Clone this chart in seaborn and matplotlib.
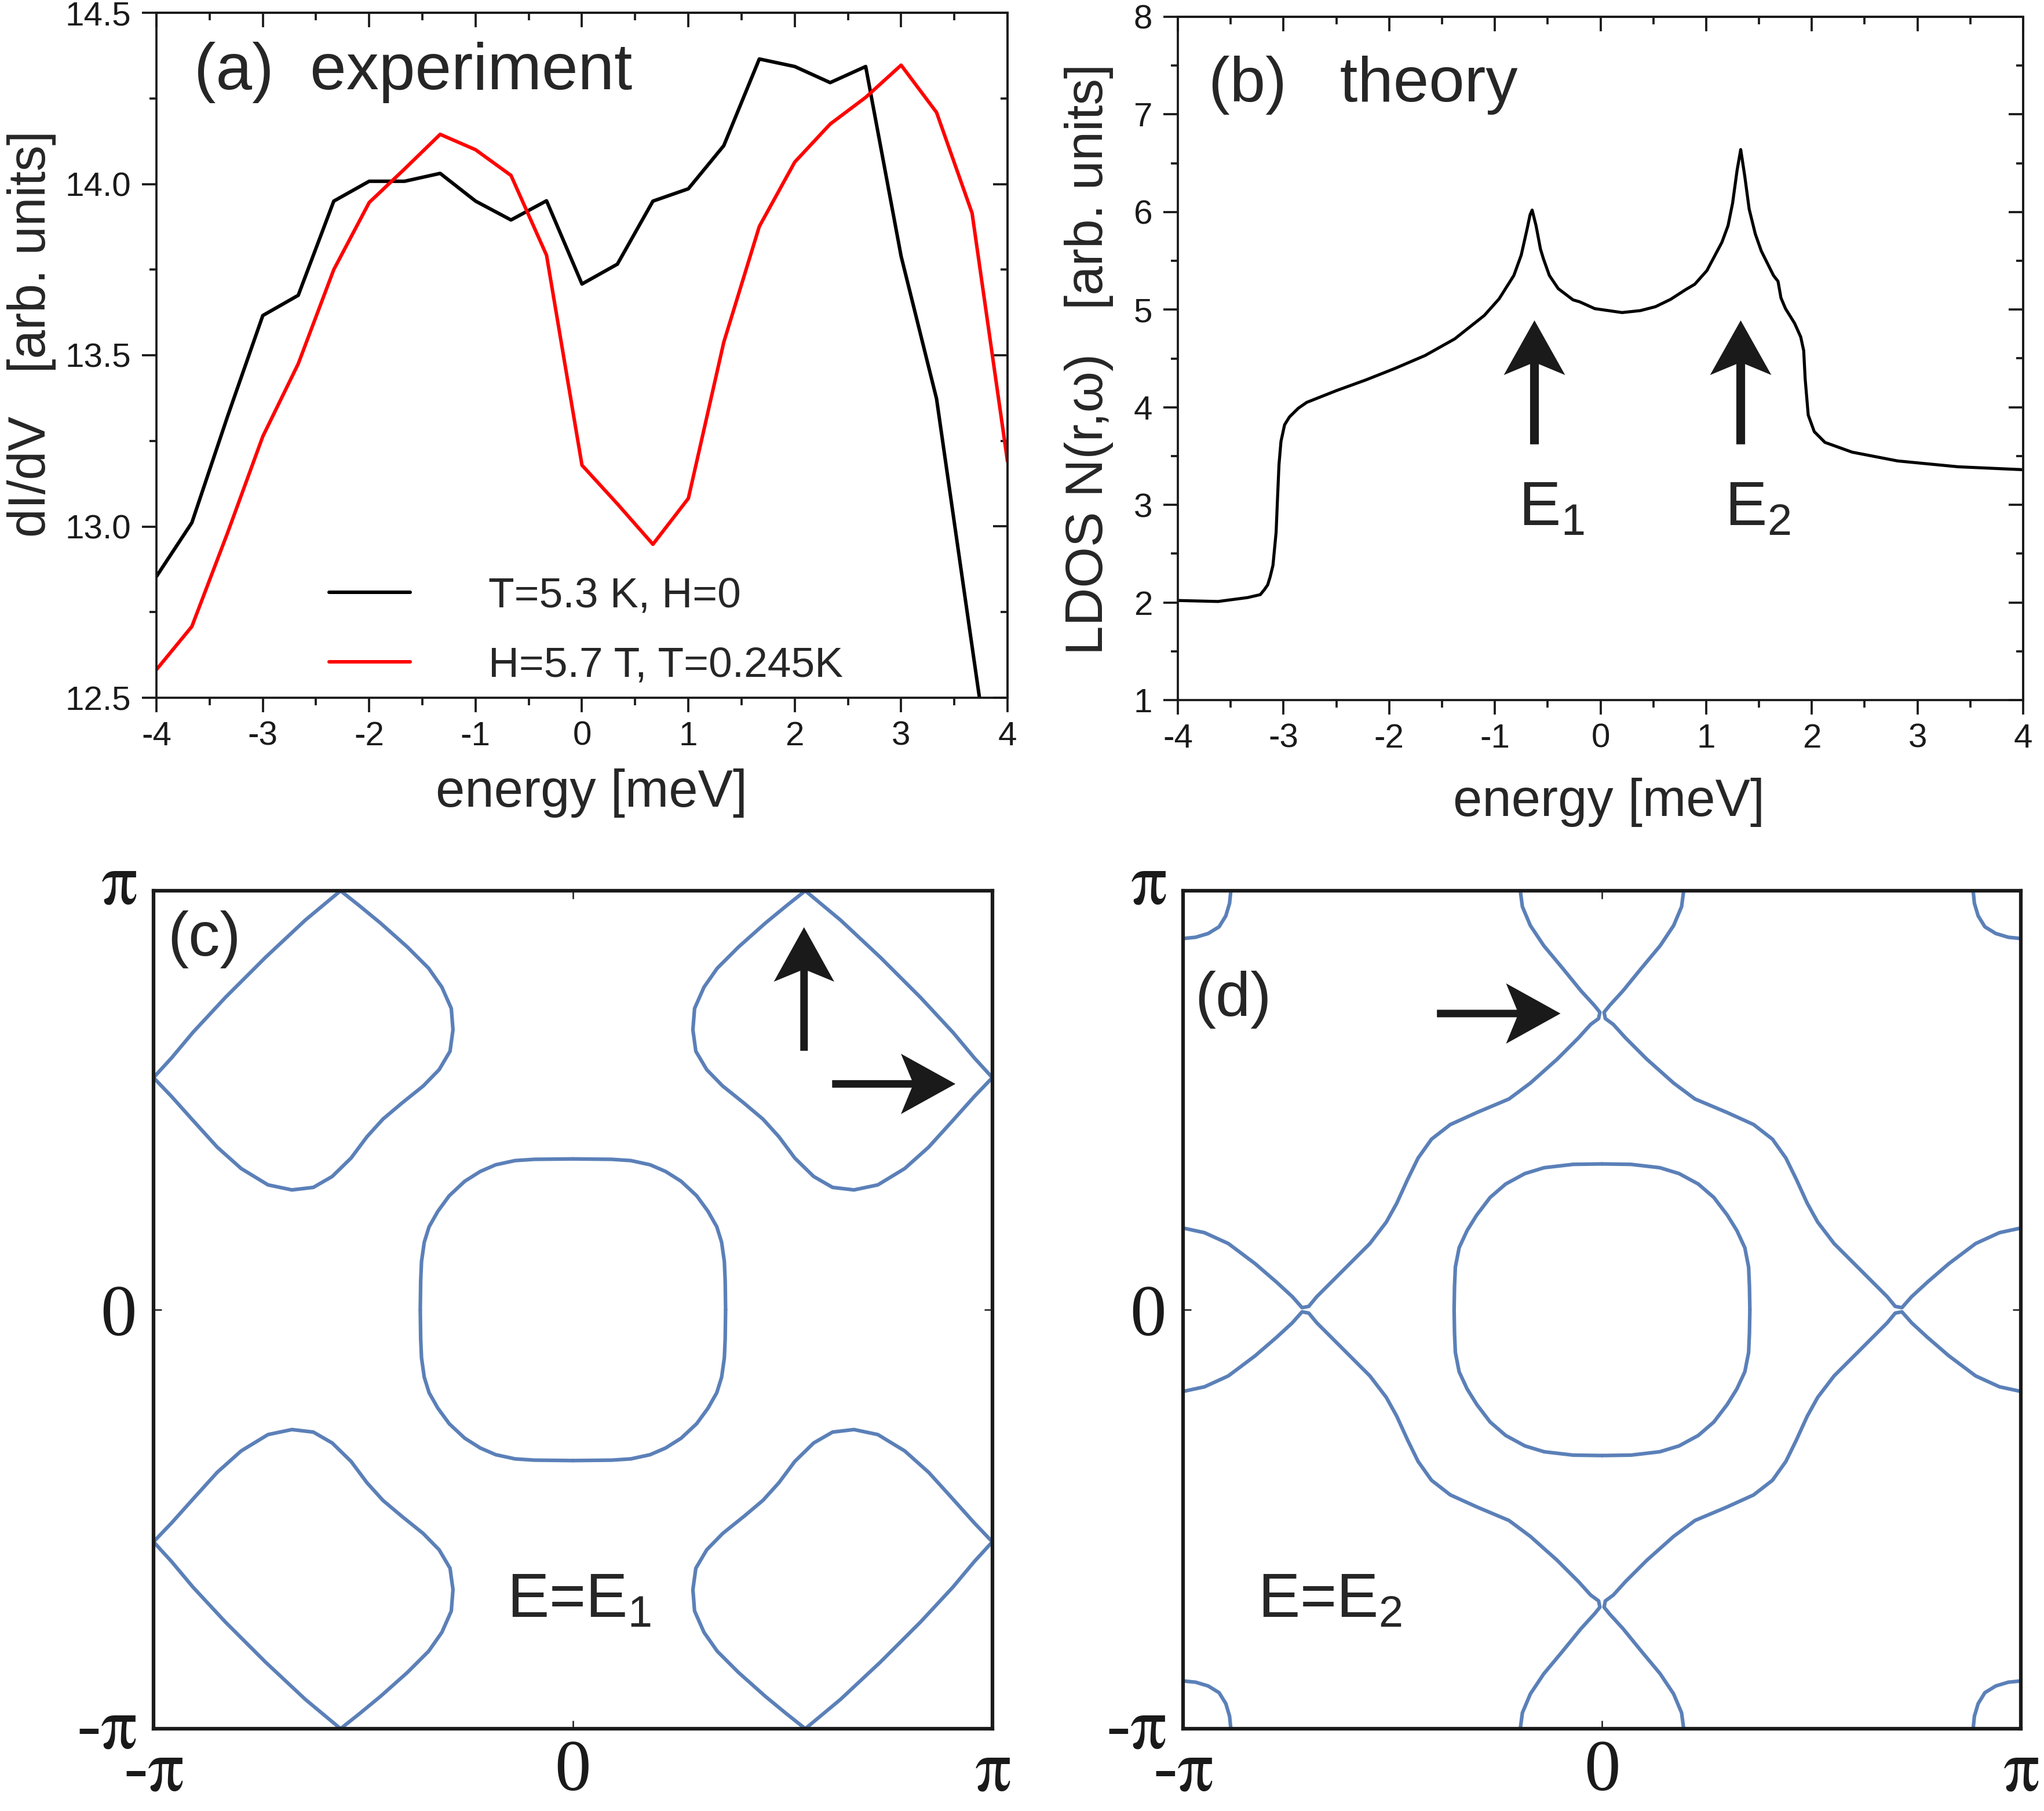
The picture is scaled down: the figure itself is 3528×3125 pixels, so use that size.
import numpy as np
import pandas as pd
import matplotlib
matplotlib.use("Agg")
import matplotlib.pyplot as plt
import matplotlib.transforms as mtransforms
import seaborn as sns
from matplotlib.ticker import MultipleLocator, FormatStrFormatter

# ---------------- data: panel (a) experiment ----------------
energy_exp = [-4.0, -3.667, -3.333, -3.0, -2.667, -2.333, -2.0, -1.667, -1.333, -1.0,
              -0.667, -0.333, 0.0, 0.333, 0.667, 1.0, 1.333, 1.667, 2.0, 2.333,
              2.667, 3.0, 3.333, 3.667, 4.0]
didv_T53 = [12.854, 13.011, 13.32, 13.616, 13.675, 13.95, 14.008, 14.008, 14.031, 13.95,
            13.895, 13.951, 13.708, 13.766, 13.95, 13.986, 14.112, 14.365, 14.343, 14.296,
            14.343, 13.789, 13.373, 12.65, 11.93]
didv_H57 = [12.582, 12.708, 12.98, 13.263, 13.475, 13.75, 13.946, 14.044, 14.145, 14.10,
            14.025, 13.792, 13.179, 13.066, 12.948, 13.082, 13.538, 13.876, 14.064, 14.175,
            14.253, 14.347, 14.209, 13.915, 13.19]
legend_labels = ["T=5.3 K, H=0", "H=5.7 T, T=0.245K"]

# ---------------- data: panel (b) theory ----------------
energy_th = [-4.0, -3.62, -3.34, -3.22, -3.182, -3.15, -3.127, -3.10, -3.07, -3.057,
             -3.043, -3.024, -2.99, -2.944, -2.86, -2.78, -2.50, -2.22, -1.94, -1.66,
             -1.38, -1.10, -0.96, -0.82, -0.75, -0.694, -0.667, -0.647, -0.61, -0.568,
             -0.54, -0.484, -0.40, -0.26, -0.197, -0.054, 0.204, 0.377, 0.52, 0.663,
             0.806, 0.892, 1.007, 1.149, 1.207, 1.25, 1.293, 1.327, 1.365, 1.407,
             1.465, 1.522, 1.637, 1.68, 1.708, 1.751, 1.837, 1.895, 1.923, 1.937,
             1.966, 2.023, 2.124, 2.381, 2.811, 3.384, 4.0]
ldos = [2.02, 2.01, 2.05, 2.08, 2.13, 2.18, 2.26, 2.38, 2.72, 3.06,
        3.41, 3.65, 3.82, 3.90, 3.99, 4.05, 4.17, 4.28, 4.40, 4.53,
        4.70, 4.94, 5.11, 5.35, 5.56, 5.83, 5.97, 6.02, 5.86, 5.62,
        5.52, 5.35, 5.215, 5.10, 5.08, 5.01, 4.97, 4.99, 5.03, 5.105,
        5.205, 5.26, 5.40, 5.69, 5.86, 6.09, 6.43, 6.64, 6.37, 6.03,
        5.775, 5.60, 5.35, 5.29, 5.12, 5.01, 4.86, 4.72, 4.58, 4.29,
        3.92, 3.75, 3.64, 3.54, 3.45, 3.39, 3.36]
peak_energies = [-0.625, 1.327]
peak_labels = [r"$\mathrm{E_1}$", r"$\mathrm{E_2}$"]

# ---------------- data: panel (c) contour at E1 (units of pi) ----------------
pocket_c_x = [0.554, 0.510, 0.459, 0.395, 0.344, 0.3125, 0.290, 0.286, 0.293, 0.319,
              0.357, 0.408, 0.453, 0.491, 0.529, 0.574, 0.619, 0.670, 0.727, 0.791,
              0.848, 0.906, 0.957, 1.0, 0.957, 0.906, 0.829, 0.733, 0.638, 0.554]
pocket_c_y = [1.0, 0.965, 0.923, 0.866, 0.815, 0.770, 0.719, 0.668, 0.617, 0.573,
              0.534, 0.493, 0.455, 0.413, 0.362, 0.318, 0.292, 0.286, 0.298, 0.337,
              0.388, 0.452, 0.509, 0.554, 0.601, 0.662, 0.745, 0.841, 0.930, 1.0]
center_c_x = [0.0, 0.092, 0.138, 0.184, 0.221, 0.258, 0.295, 0.322, 0.343, 0.3545, 0.361, 0.363, 0.364]
center_c_y = [0.360, 0.359, 0.356, 0.346, 0.330, 0.3066, 0.272, 0.235, 0.198, 0.161, 0.115, 0.069, 0.0]

# ---------------- data: panel (d) contour at E2 (units of pi) ----------------
branch_d_x = [-0.195, -0.190, -0.171, -0.139, -0.094, -0.050, -0.018, -0.005, -0.008, -0.027,
              -0.056, -0.107, -0.171, -0.222, -0.298, -0.362, -0.407, -0.439, -0.464, -0.490,
              -0.515, -0.554, -0.605, -0.656, -0.681, -0.700, -0.716, -0.739, -0.777, -0.828,
              -0.892, -0.949, -1.0]
branch_d_y = [1.0, 0.962, 0.917, 0.869, 0.815, 0.761, 0.726, 0.710, 0.695, 0.681,
              0.649, 0.598, 0.541, 0.503, 0.471, 0.442, 0.407, 0.362, 0.311, 0.254,
              0.209, 0.158, 0.107, 0.056, 0.031, 0.008, 0.005, 0.031, 0.066, 0.110,
              0.158, 0.184, 0.195]
corner_d_x = [-0.886, -0.889, -0.898, -0.914, -0.940, -0.970, -1.0]
corner_d_y = [1.0, 0.970, 0.940, 0.914, 0.898, 0.889, 0.886]
center_d_x = [0.0, 0.069, 0.138, 0.184, 0.230, 0.267, 0.299, 0.322, 0.341, 0.350, 0.352, 0.353]
center_d_y = [0.348, 0.347, 0.339, 0.325, 0.300, 0.268, 0.226, 0.189, 0.148, 0.102, 0.056, 0.0]

pi_ticks = [-1, 0, 1]
pi_labels = [r"-$\pi$", "0", r"$\pi$"]

# ---------------- style ----------------
sns.set_theme(style="ticks")
plt.rcParams["font.family"] = ["Liberation Sans", "DejaVu Sans"]
plt.rcParams["axes.unicode_minus"] = False
plt.rcParams["mathtext.fontset"] = "custom"
plt.rcParams["mathtext.rm"] = "Liberation Sans"
plt.rcParams["mathtext.it"] = "Liberation Sans:italic"
plt.rcParams["mathtext.default"] = "rm"

CONTOUR = "#5b80b8"

fig = plt.figure(figsize=(3528 / 300, 3125 / 300), dpi=300)
ax_a = fig.add_axes([0.07653, 0.61472, 0.41638, 0.37824])
ax_b = fig.add_axes([0.57625, 0.61344, 0.41355, 0.37728])
ax_c = fig.add_axes([0.0751, 0.04544, 0.4104, 0.4627])
ax_d = fig.add_axes([0.5788, 0.04544, 0.4099, 0.4627])


def style_line_axes(ax, xmaj, xmin, ymaj, ymin):
    for s in ax.spines.values():
        s.set_linewidth(0.9)
        s.set_color("k")
    ax.xaxis.set_major_locator(MultipleLocator(xmaj))
    ax.xaxis.set_minor_locator(MultipleLocator(xmin))
    ax.yaxis.set_major_locator(MultipleLocator(ymaj))
    ax.yaxis.set_minor_locator(MultipleLocator(ymin))
    ax.tick_params(which="both", direction="out", top=False, right=False,
                   width=0.9, color="k", labelsize=14, labelcolor="k")
    ax.tick_params(which="major", length=6)
    ax.tick_params(which="minor", length=3)
    ax.tick_params(axis="x", which="major", pad=3.5)
    ax.tick_params(axis="y", which="major", pad=4.5)
    sx = ax.secondary_xaxis("top")
    sx.xaxis.set_major_locator(MultipleLocator(xmaj))
    sx.xaxis.set_minor_locator(MultipleLocator(xmin))
    sx.tick_params(which="both", direction="in", labeltop=False, width=0.9, color="k")
    sx.tick_params(which="major", length=6)
    sx.tick_params(which="minor", length=3)
    sx.spines["top"].set_linewidth(0.9)
    sy = ax.secondary_yaxis("right")
    sy.yaxis.set_major_locator(MultipleLocator(ymaj))
    sy.yaxis.set_minor_locator(MultipleLocator(ymin))
    sy.tick_params(which="both", direction="in", labelright=False, width=0.9, color="k")
    sy.tick_params(which="major", length=6)
    sy.tick_params(which="minor", length=3)
    sy.spines["right"].set_linewidth(0.9)


# ---------------- panel (a) ----------------
df_a = pd.DataFrame({
    "energy": energy_exp * 2,
    "dIdV": didv_T53 + didv_H57,
    "curve": [legend_labels[0]] * len(energy_exp) + [legend_labels[1]] * len(energy_exp),
})
sns.lineplot(data=df_a, x="energy", y="dIdV", hue="curve", hue_order=legend_labels,
             palette=["black", "#ff0000"], lw=1.45, ax=ax_a, legend=False)
ax_a.set_xlim(-4, 4)
ax_a.set_ylim(12.5, 14.5)
style_line_axes(ax_a, 1, 0.5, 0.5, 0.25)
ax_a.yaxis.set_major_formatter(FormatStrFormatter("%.1f"))
ax_a.set_xlabel("energy [meV]", fontsize=21.7)
ax_a.set_ylabel("dI/dV   [arb. units]", fontsize=21.5)
ax_a.xaxis.set_label_coords(0.511, -0.103)
ax_a.yaxis.set_label_coords(-0.118, 0.531)
ax_a.text(0.044, 0.913, "(a)  experiment", transform=ax_a.transAxes,
          fontsize=27, ha="left", va="center")
ax_a.legend(ax_a.lines[:2], legend_labels, loc="center left", bbox_to_anchor=(0.203, 0.097),
            frameon=False, fontsize=17.6, handlelength=1.9, handletextpad=1.85,
            labelspacing=0.72, borderpad=0, borderaxespad=0)

# ---------------- panel (b) ----------------
df_b = pd.DataFrame({"energy": energy_th, "ldos": ldos})
sns.lineplot(data=df_b, x="energy", y="ldos", color="black", lw=1.25, ax=ax_b)
ax_b.set_xlim(-4, 4)
ax_b.set_ylim(1, 8)
style_line_axes(ax_b, 1, 0.5, 1, 0.5)
ax_b.set_xlabel("energy [meV]", fontsize=21.7)
ax_b.set_ylabel("LDOS N(r,\u03c9)   [arb. units]", fontsize=21.8)
ax_b.xaxis.set_label_coords(0.510, -0.114)
ax_b.yaxis.set_label_coords(-0.076, 0.499)
ax_b.text(0.036, 0.900, "(b)   theory", transform=ax_b.transAxes,
          fontsize=26.5, ha="left", va="center")
for xe, lab in zip(peak_energies, peak_labels):
    ax_b.arrow(xe, 3.62, 0, 4.89 - 3.62, width=0.083, head_width=0.58, head_length=0.56,
               overhang=0.2, length_includes_head=True, fc="k", ec="none")
    ax_b.text(xe - 0.153, 2.79, lab, fontsize=26, ha="left", va="baseline")


# ---------------- contour panels ----------------
def mirror_rows(xs, ys, tag):
    rows = []
    for i, (sx, sy) in enumerate([(1, 1), (-1, 1), (1, -1), (-1, -1)]):
        for x, y in zip(xs, ys):
            rows.append((sx * x, sy * y, f"{tag}{i}"))
    return rows


def style_bz_axes(ax):
    ax.set_xlim(-1, 1)
    ax.set_ylim(-1, 1)
    for s in ax.spines.values():
        s.set_linewidth(1.5)
        s.set_color("k")
    ax.set_xticks(pi_ticks)
    ax.set_yticks(pi_ticks)
    ax.set_xticklabels(pi_labels, fontfamily="Liberation Serif", fontsize=30,
                       math_fontfamily="stix")
    ax.set_yticklabels(pi_labels, fontfamily="Liberation Serif", fontsize=30,
                       math_fontfamily="stix")
    ax.tick_params(direction="in", length=3.4, width=0.6, color="k",
                   top=True, right=True, labelcolor="k")
    ax.tick_params(axis="x", pad=4.6)
    ax.tick_params(axis="y", pad=7)
    # nudge the pi labels on the y axis upward, as in the original
    ylabs = ax.get_yticklabels()
    for lbl, dy in ((ylabs[0], 2.5), (ylabs[2], 5.0)):
        lbl.set_transform(lbl.get_transform()
                          + mtransforms.ScaledTranslation(0, dy / 72, fig.dpi_scale_trans))
    ax.set_xlabel("")
    ax.set_ylabel("")


rows_c = mirror_rows(pocket_c_x, pocket_c_y, "p") + mirror_rows(center_c_x, center_c_y, "c")
df_c = pd.DataFrame(rows_c, columns=["kx", "ky", "unit"])
sns.lineplot(data=df_c, x="kx", y="ky", units="unit", estimator=None, sort=False,
             color=CONTOUR, lw=1.5, ax=ax_c)
style_bz_axes(ax_c)
ax_c.text(0.017, 0.942, "(c)", transform=ax_c.transAxes, fontsize=26, ha="left", va="center")
ax_c.text(-0.157, -0.734, r"E=$\mathrm{E_1}$", fontsize=26, ha="left", va="baseline")
ax_c.arrow(0.551, 0.618, 0, 0.913 - 0.618, width=0.018, head_width=0.144, head_length=0.13,
           overhang=0.2, length_includes_head=True, fc="k", ec="none")
ax_c.arrow(0.618, 0.539, 0.912 - 0.618, 0, width=0.018, head_width=0.144, head_length=0.13,
           overhang=0.2, length_includes_head=True, fc="k", ec="none")

rows_d = (mirror_rows(branch_d_x, branch_d_y, "b") + mirror_rows(corner_d_x, corner_d_y, "k")
          + mirror_rows(center_d_x, center_d_y, "c"))
df_d = pd.DataFrame(rows_d, columns=["kx", "ky", "unit"])
sns.lineplot(data=df_d, x="kx", y="ky", units="unit", estimator=None, sort=False,
             color=CONTOUR, lw=1.5, ax=ax_d)
style_bz_axes(ax_d)
ax_d.text(0.014, 0.870, "(d)", transform=ax_d.transAxes, fontsize=26, ha="left", va="center")
ax_d.text(-0.822, -0.734, r"E=$\mathrm{E_2}$", fontsize=26, ha="left", va="baseline")
ax_d.arrow(-0.394, 0.707, -0.099 + 0.394, 0, width=0.018, head_width=0.144, head_length=0.13,
           overhang=0.2, length_includes_head=True, fc="k", ec="none")

fig.savefig("out.png", dpi=300)
